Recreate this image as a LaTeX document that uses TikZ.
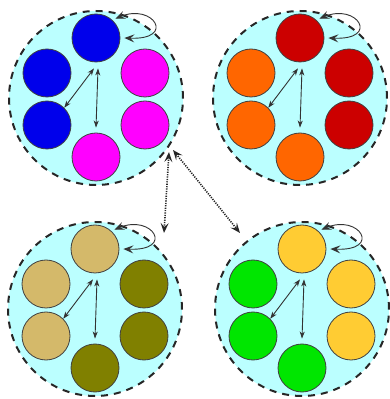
\documentclass[tikz,border=0pt]{standalone}
\usetikzlibrary{arrows.meta}
\definecolor{bgcyan}{RGB}{187,255,255}
\definecolor{cblue}{RGB}{0,0,235}
\definecolor{cmag}{RGB}{255,0,255}
\definecolor{cred}{RGB}{204,0,0}
\definecolor{corange}{RGB}{255,102,0}
\definecolor{ctan}{RGB}{212,185,106}
\definecolor{colive}{RGB}{128,128,0}
\definecolor{cgold}{RGB}{255,204,51}
\definecolor{cgreen}{RGB}{0,230,0}
\tikzset{
  bigc/.style={circle, minimum size=174pt, inner sep=0pt, fill=bgcyan, draw=black!85, line width=2pt, dash pattern=on 7pt off 6pt},
  smallc/.style={circle, minimum size=48pt, inner sep=0pt, draw=black!75, line width=0.8pt},
  inarrow/.style={{Stealth[length=7pt,width=5pt,inset=2pt]}-{Stealth[length=7pt,width=5pt,inset=2pt]}, draw=black!80, line width=0.9pt},
  looparrow/.style={{Stealth[length=10pt,width=8pt,inset=4pt]}-{Stealth[length=10pt,width=8pt,inset=4pt]}, draw=black!80, line width=0.9pt},
  dotarrow/.style={{Stealth[length=10pt,width=8pt,inset=4pt]}-{Stealth[length=10pt,width=8pt,inset=4pt]}, draw=black!85, line width=1.6pt, dash pattern=on 1.2pt off 1.2pt},
  pics/cluster/.style n args={4}{code={
    \node[bigc] (-big) at (0,0) {};
    \node[smallc, fill=#1] (-t) at (0,60) {};
    \node[smallc, fill=#2] (-ul) at (-49,25) {};
    \node[smallc, fill=#2] (-ll) at (-49,-27) {};
    \node[smallc, fill=#3] (-ur) at (49,25) {};
    \node[smallc, fill=#3] (-lr) at (49,-27) {};
    \node[smallc, fill=#4] (-b) at (0,-59) {};
    \draw[inarrow] ([shift={(-2,-6)}]-t.south) -- (-ll.45);
    \draw[inarrow] ([shift={(2,-6)}]-t.south) -- ([yshift=5]-b.north);
    \draw[looparrow] ([shift={(2,2)}]-t.45) .. controls +(38,16) and +(52,-2) .. ([xshift=4]-t.0);
  }}
}
\begin{document}
\begin{tikzpicture}[x=1pt,y=1pt]
\useasboundingbox (0,0) rectangle (389,399);
\pic (tl) at (96,301) {cluster={cblue}{cblue}{cmag}{cmag}};
\pic (tr) at (300,301) {cluster={cred}{corange}{cred}{corange}};
\pic (bl) at (95,90) {cluster={ctan}{ctan}{colive}{colive}};
\pic (br) at (302,90) {cluster={cgold}{cgreen}{cgold}{cgreen}};
\coordinate (p1) at (169,247);
\coordinate (p2) at (173,249);
\coordinate (q1) at (164,166);
\coordinate (q2) at (240,166);
\draw[dotarrow] (p1) -- (q1);
\draw[dotarrow] (p2) -- (q2);
\end{tikzpicture}
\end{document}
